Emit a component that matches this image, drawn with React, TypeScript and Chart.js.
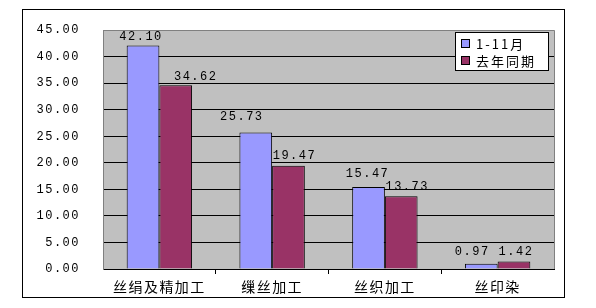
import React, { useEffect, useRef } from "react";
import { Chart, registerables } from "chart.js";

Chart.register(...registerables);

const categories = ["丝绢及精加工", "缫丝加工", "丝织加工", "丝印染"];
const seriesNames = ["1-11月", "去年同期"];
const currentValues = [42.1, 25.73, 15.47, 0.97];
const lastYearValues = [34.62, 19.47, 13.73, 1.42];
const yTicksMin = 0;
const yTicksMax = 45;
const yTicksStep = 5;

const BLUE = "#9999FF";
const RED = "#993366";
const PLOT_BG = "#C0C0C0";
const NUM_FONT = "'Liberation Mono', 'DejaVu Sans Mono', monospace";
const CJK_FONT = "'Noto Sans CJK SC', 'Liberation Mono', sans-serif";

// label nudges (x offset from bar centre, gap above bar top), per dataset
const labelNudges = [
  [[-2, 4], [-14, 11], [-1, 8], [-9, 7]],
  [[20, 3], [6, 5], [6, 4], [2, 5]],
];

const spacingPlugin = {
  id: "spacing",
  beforeUpdate(chart: any) {
    (chart.ctx as any).letterSpacing = "1.5px";
  },
  beforeDraw(chart: any) {
    (chart.ctx as any).letterSpacing = "1.5px";
  },
};

const framePlugin = {
  id: "frame",
  beforeDraw(chart: any) {
    const { ctx, chartArea } = chart;
    ctx.save();
    ctx.fillStyle = "#FFFFFF";
    ctx.fillRect(0, 0, chart.width, chart.height);
    ctx.strokeStyle = "#000000";
    ctx.lineWidth = 1;
    ctx.strokeRect(22.5, 9.5, 542, 288);
    ctx.fillStyle = PLOT_BG;
    ctx.fillRect(chartArea.left, chartArea.top, chartArea.right - chartArea.left, chartArea.bottom - chartArea.top);
    ctx.restore();
  },
  afterDraw(chart: any) {
    const { ctx, chartArea } = chart;
    ctx.save();
    ctx.strokeStyle = "#808080";
    ctx.lineWidth = 1;
    ctx.beginPath();
    ctx.moveTo(Math.round(chartArea.right) + 0.5, chartArea.top);
    ctx.lineTo(Math.round(chartArea.right) + 0.5, chartArea.bottom);
    ctx.stroke();
    ctx.restore();
  },
};

const labelsPlugin = {
  id: "valueLabels",
  afterDatasetsDraw(chart: any) {
    const { ctx } = chart;
    ctx.save();
    (ctx as any).letterSpacing = "1.5px";
    ctx.font = `12px ${NUM_FONT}`;
    ctx.fillStyle = "#000000";
    ctx.textAlign = "center";
    ctx.textBaseline = "bottom";
    chart.data.datasets.forEach((ds: any, i: number) => {
      const meta = chart.getDatasetMeta(i);
      meta.data.forEach((bar: any, j: number) => {
        const v = ds.data[j] as number;
        const n = labelNudges[i][j];
        ctx.fillText(v.toFixed(2), bar.x + n[0], bar.y - n[1] + 1);
      });
    });
    ctx.restore();
  },
};

const legendPlugin = {
  id: "boxLegend",
  afterDraw(chart: any) {
    const { ctx } = chart;
    const x = 455, y = 32, w = 93, h = 38;
    ctx.save();
    (ctx as any).letterSpacing = "2px";
    ctx.fillStyle = "#FFFFFF";
    ctx.fillRect(x, y, w, h);
    ctx.strokeStyle = "#000000";
    ctx.lineWidth = 1;
    ctx.strokeRect(x + 0.5, y + 0.5, w, h);
    ctx.font = `13px ${CJK_FONT}`;
    ctx.textBaseline = "middle";
    ctx.textAlign = "left";
    chart.data.datasets.forEach((ds: any, i: number) => {
      const cy = y + 11 + i * 17;
      ctx.fillStyle = ds.backgroundColor;
      ctx.fillRect(x + 6, cy - 4, 9, 9);
      ctx.strokeStyle = "#000000";
      ctx.strokeRect(x + 6.5, cy - 3.5, 8, 8);
      ctx.fillStyle = "#000000";
      ctx.fillText(ds.label, x + 21, cy + 1);
    });
    ctx.restore();
  },
};

export default function App() {
  const canvasRef = useRef<HTMLCanvasElement | null>(null);

  useEffect(() => {
    const canvas = canvasRef.current;
    if (!canvas) return;
    const chart = new Chart(canvas, {
      type: "bar",
      data: {
        labels: categories,
        datasets: [
          {
            label: seriesNames[0],
            data: currentValues,
            backgroundColor: BLUE,
            borderColor: "#000000",
            borderWidth: 1,
          },
          {
            label: seriesNames[1],
            data: lastYearValues,
            backgroundColor: RED,
            borderColor: "#000000",
            borderWidth: 1,
          },
        ],
      },
      options: {
        responsive: false,
        animation: false,
        devicePixelRatio: 1,
        layout: { padding: { left: 0, right: 42, top: 28, bottom: 0 } },
        plugins: {
          legend: { display: false },
          tooltip: { enabled: false },
        },
        datasets: {
          bar: { categoryPercentage: 0.58, barPercentage: 1 },
        },
        scales: {
          x: {
            grid: {
              display: true,
              drawOnChartArea: false,
              drawTicks: true,
              tickLength: 5,
              offset: true,
              color: (c: any) => (c.index >= 1 ? "#000000" : "rgba(0,0,0,0)"),
            },
            border: { display: true, color: "#000000", width: 1 },
            ticks: {
              color: "#000000",
              padding: 4,
              font: { family: CJK_FONT, size: 14 },
              maxRotation: 0,
              autoSkip: false,
            },
            afterFit: (scale: any) => {
              scale.height = 39;
            },
          },
          y: {
            min: yTicksMin,
            max: yTicksMax,
            grid: {
              drawTicks: false,
              color: (c: any) => (c.tick && c.tick.value === yTicksMax ? "#808080" : "#000000"),
            },
            border: { display: true, color: "#808080", width: 1 },
            ticks: {
              stepSize: yTicksStep,
              color: "#000000",
              padding: 23,
              font: { family: NUM_FONT, size: 12 },
              callback: (v: any) => Number(v).toFixed(2),
            },
            afterFit: (scale: any) => {
              scale.width = 103;
            },
          },
        },
      },
      plugins: [spacingPlugin, framePlugin, labelsPlugin, legendPlugin],
    });
    return () => chart.destroy();
  }, []);

  return (
    <div style={{ position: "fixed", left: 0, top: 0, width: 596, height: 308, background: "#fff" }}>
      <canvas ref={canvasRef} width={596} height={308} style={{ display: "block" }} />
    </div>
  );
}
